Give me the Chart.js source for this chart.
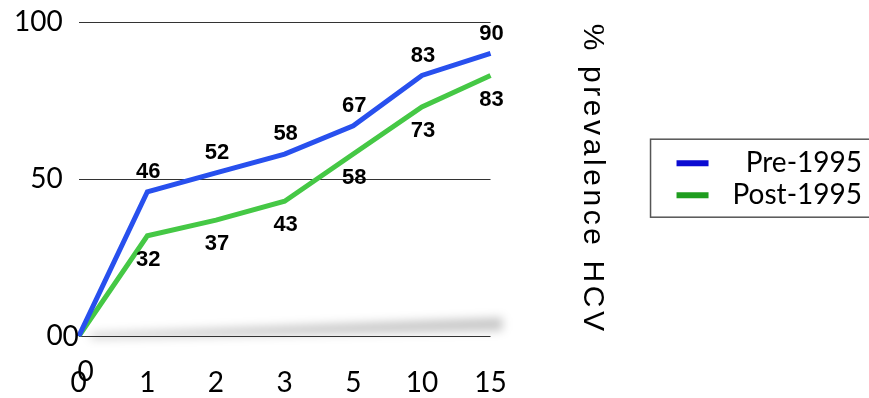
<!DOCTYPE html>
<html>
<head>
<meta charset="utf-8">
<script src="https://cdn.jsdelivr.net/npm/chart.js@4.4.1/dist/chart.umd.min.js"></script>
<style>
  html, body { margin: 0; padding: 0; background: #fff; }
  #wrap { width: 869px; height: 398px; position: relative; }
</style>
</head>
<body>
<div id="wrap"><canvas id="chart"></canvas></div>
<script>
// Years since infection (category axis)
const years = ['0', '1', '2', '3', '5', '10', '15'];
// HCV prevalence (%) by cohort
const pre1995 = [0, 46, 52, 58, 67, 83, 90];
const post1995 = [0, 32, 37, 43, 58, 73, 83];
// Left axis tick values
const yTicks = [0, 50, 100];

const tickFont = { family: 'Lato', size: 28 };
const valueFont = 'bold 22px "Liberation Sans", Arial, sans-serif';

// Soft grey "floor" shadow under the plot
const floorShadow = {
  id: 'floorShadow',
  beforeDraw(chart) {
    const { ctx, chartArea: a } = chart;
    ctx.save();
    ctx.filter = 'blur(5px)';
    ctx.fillStyle = 'rgba(0,0,0,0.22)';
    ctx.beginPath();
    ctx.moveTo(a.left + 12, a.bottom + 2);
    ctx.lineTo(a.right + 12, a.bottom - 6);
    ctx.lineTo(a.right + 12, a.bottom - 19);
    ctx.lineTo(a.left + 12, a.bottom - 3);
    ctx.closePath();
    ctx.fill();
    ctx.restore();
  }
};

// Spaced-out lettering for the right-hand axis title
const spacedTitle = {
  id: 'spacedTitle',
  beforeDraw(chart) {
    const s = chart.scales.y2;
    if (!s || s._spaced) return;
    const orig = s.drawTitle.bind(s);
    s.drawTitle = function () {
      const ctx = this.ctx;
      const prev = ctx.letterSpacing;
      ctx.letterSpacing = '3.6px';
      orig();
      ctx.letterSpacing = prev || '0px';
    };
    s._spaced = true;
  }
};

// Value labels: Pre-1995 above its line, Post-1995 below
const valueLabels = {
  id: 'valueLabels',
  afterDatasetsDraw(chart) {
    const { ctx } = chart;
    ctx.save();
    ctx.fillStyle = '#000';
    ctx.textAlign = 'center';
    ctx.textBaseline = 'middle';
    chart.data.datasets.forEach((ds, i) => {
      const meta = chart.getDatasetMeta(i);
      meta.data.forEach((pt, j) => {
        const v = ds.data[j];
        if (j === 0) {
          ctx.font = '28px Lato';
          if (i === 0) ctx.fillText(String(v), pt.x - 8, pt.y + 1);
          else ctx.fillText(String(v), pt.x + 7, pt.y + 36);
          return;
        }
        ctx.font = valueFont;
        const dy = i === 0 ? -20 : 24;
        ctx.fillText(String(v), pt.x + 1, pt.y + dy);
      });
    });
    ctx.restore();
  }
};

// Frame around the legend
const legendFrame = {
  id: 'legendFrame',
  afterDraw(chart) {
    const lg = chart.legend;
    if (!lg || !lg.legendHitBoxes || !lg.legendHitBoxes.length) return;
    const hb = lg.legendHitBoxes;
    const first = hb[0], last = hb[hb.length - 1];
    const x0 = first.left - 26;
    const y0 = first.top - 10;
    const y1 = last.top + last.height + 8;
    const { ctx } = chart;
    ctx.save();
    ctx.strokeStyle = '#555';
    ctx.lineWidth = 1.5;
    ctx.strokeRect(x0, y0, chart.width + 10 - x0, y1 - y0);
    ctx.restore();
  }
};

new Chart(document.getElementById('chart'), {
  type: 'line',
  data: {
    labels: years,
    datasets: [
      {
        label: 'Pre-1995',
        data: pre1995,
        borderColor: '#2850ee',
        backgroundColor: '#0b0bd2',
        borderWidth: 5,
        pointRadius: 0,
        tension: 0
      },
      {
        label: 'Post-1995',
        data: post1995,
        borderColor: '#45c845',
        backgroundColor: '#1f9d1f',
        borderWidth: 5,
        pointRadius: 0,
        tension: 0
      }
    ]
  },
  options: {
    responsive: true,
    maintainAspectRatio: false,
    animation: false,
    layout: { padding: { left: -2, right: 7, top: 22, bottom: -32 } },
    scales: {
      x: {
        offset: false,
        grid: { display: false, drawTicks: false },
        border: { display: false },
        ticks: { font: tickFont, color: '#000', padding: 30, maxRotation: 0 }
      },
      y: {
        min: 0,
        max: 100,
        afterBuildTicks(scale) { scale.ticks = yTicks.map(v => ({ value: v })); },
        afterFit(scale) { scale.paddingTop = 0; },
        grid: { color: '#333', lineWidth: 1, drawTicks: false },
        border: { display: false },
        ticks: { font: tickFont, color: '#000', padding: 16 }
      },
      y2: {
        position: 'right',
        min: 0,
        max: 100,
        afterFit(scale) { scale.width = 182; },
        grid: { display: false, drawTicks: false },
        border: { display: false },
        ticks: { display: false },
        title: {
          display: true,
          text: '% prevalence HCV',
          color: '#000',
          font: { family: 'Liberation Sans', size: 30 },
          padding: { top: 62, bottom: 84 }
        }
      }
    },
    plugins: {
      legend: {
        position: 'right',
        align: 'center',
        fullSize: false,
        maxWidth: 260,
        labels: {
          font: tickFont,
          color: '#000',
          boxWidth: 32,
          boxHeight: 6,
          padding: 4,
          textAlign: 'right',
          generateLabels(chart) {
            return Chart.defaults.plugins.legend.labels.generateLabels(chart)
              .map(l => ({ ...l, lineWidth: 0, strokeStyle: l.fillStyle }));
          }
        }
      },
      tooltip: { enabled: false }
    }
  },
  plugins: [spacedTitle, floorShadow, valueLabels, legendFrame]
});
</script>
</body>
</html>
